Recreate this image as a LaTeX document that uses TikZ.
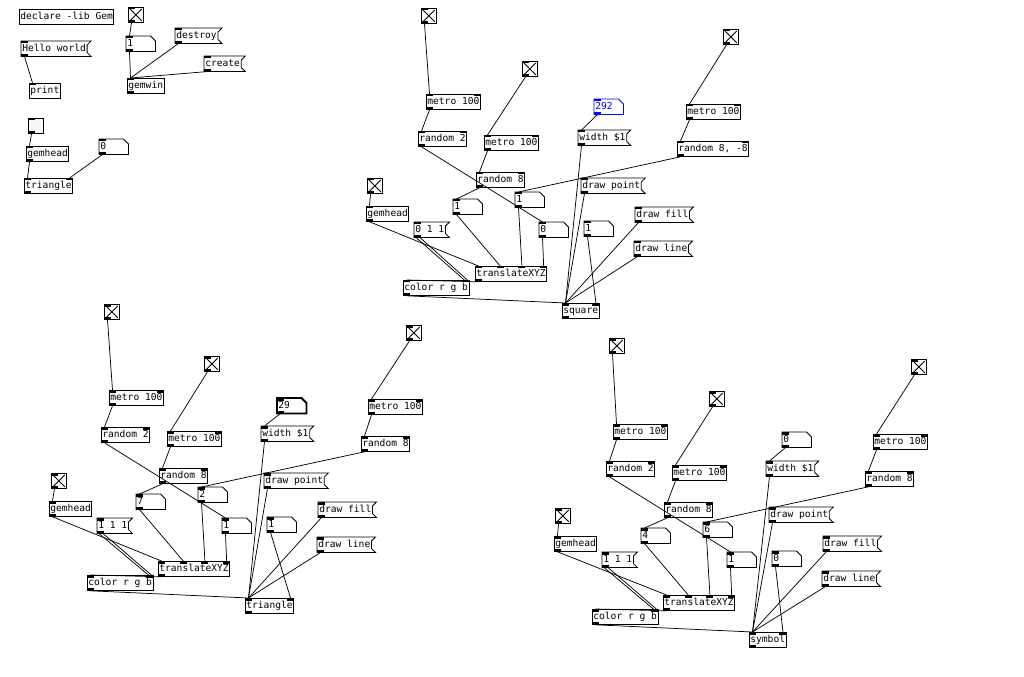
\documentclass[tikz,border=0pt]{standalone}
\usepackage{fontspec}
\setmonofont{DejaVu Sans Mono}
\usetikzlibrary{calc}
\definecolor{PdBlue}{RGB}{0,0,255}
\newdimen\pdu \pdu=0.75pt
\newcommand\pdfont{\ttfamily\fontsize{7.2}{8}\selectfont}

\tikzset{
  pdline/.style={line width=0.6pt},
  wire/.style={line width=0.55pt},
  pdbox/.style={anchor=north west, font=\pdfont, inner xsep=1\pdu, inner ysep=0pt,
    minimum height=15\pdu, text height=5.6pt, text depth=1.5pt},
  pdobj/.style={pdbox, draw, pdline},
  pdmsg/.style={pdbox},
  pdnum/.style={pdbox, text width=27\pdu, align=left},
  pdtgl/.style={anchor=north west, draw, pdline, minimum size=15\pdu, inner sep=0pt},
}

% inlets and outlets: node, number of inlets, number of outlets
\newcommand\pdio[3]{%
  \pgfmathtruncatemacro\klast{#2-1}%
  \pgfmathtruncatemacro\nlast{max(#2-1,1)}%
  \ifnum#2>0
    \foreach \k in {0,...,\klast}{%
      \pgfmathsetmacro\f{\k/\nlast}%
      \coordinate (#1-in\k) at ($(#1.north west)!\f!([xshift=-7\pdu]#1.north east)+(3.5,0)$);
      \fill ([xshift=-3.5\pdu]#1-in\k) rectangle +(7,2.5);
    }%
  \fi
  \ifnum#3>0
    \coordinate (#1-out) at ([xshift=3.5\pdu]#1.south west);
    \fill (#1.south west) rectangle +(7,-2.5);
  \fi}
\newcommand\numframe[2][]{\draw[pdline,#1] (#2.north west) -- ([xshift=-5\pdu]#2.north east)
  -- ([yshift=-5\pdu]#2.north east) -- (#2.south east) -- (#2.south west) -- cycle;}
\newcommand\msgframe[1]{\draw[pdline] (#1.north west) -- ([xshift=4\pdu]#1.north east)
  -- ([yshift=-4\pdu]#1.north east) -- ([yshift=4\pdu]#1.south east)
  -- ([xshift=4\pdu]#1.south east) -- (#1.south west) -- cycle;}
\newcommand\tglx[1]{\draw[pdline] ([xshift=2\pdu,yshift=-2\pdu]#1.north west) -- ([xshift=-2\pdu,yshift=2\pdu]#1.south east)
  ([xshift=-2\pdu,yshift=-2\pdu]#1.north east) -- ([xshift=2\pdu,yshift=2\pdu]#1.south west);}

\begin{document}
\begin{tikzpicture}[x=0.75pt,y=-0.75pt]
\useasboundingbox (0,0) rectangle (1024,677);

% window and test objects
\node[pdobj] (decl) at (19,9) {declare -lib Gem};
\node[pdtgl] (tWin) at (128,7) {};
\node[pdnum] (nWin) at (126,36) {1};
\node[pdmsg] (mDestroy) at (175,28) {destroy};
\node[pdmsg] (mCreate) at (204,56) {create};
\node[pdobj] (win) at (127,78) {gemwin};
\node[pdmsg] (mHello) at (21,41) {Hello world};
\node[pdobj] (prt) at (29,83) {print};
\node[pdtgl, fill=black!3] (empty) at (28,118) {};
\node[pdobj] (ghTri) at (26,146) {gemhead};
\node[pdnum] (nTri) at (99,139) {0};
\node[pdobj] (tri0) at (24,178) {triangle};

% patch a: square
\node[pdtgl] (aTA) at (421,8) {};
\node[pdobj] (aMetA) at (426,94) {metro 100};
\node[pdobj] (aRndA) at (418,131) {random 2};
\node[pdtgl] (aTB) at (522,61) {};
\node[pdobj] (aMetB) at (484,135) {metro 100};
\node[pdobj] (aRndB) at (476,172) {random 8};
\node[pdnum, text=PdBlue] (aNW) at (594,99) {292};
\node[pdmsg] (aMW) at (578,130) {width \$1};
\node[pdtgl] (aTC) at (723,29) {};
\node[pdobj] (aMetC) at (686,104) {metro 100};
\node[pdobj] (aRndC) at (677,141) {random 8, -8};
\node[pdtgl] (aTD) at (367,178) {};
\node[pdobj] (aGh) at (366,206) {gemhead};
\node[pdmsg] (aMPt) at (581,178) {draw point};
\node[pdnum] (aNX) at (453,199) {1};
\node[pdnum] (aNY) at (515,192) {1};
\node[pdmsg] (aMFill) at (635,207) {draw fill};
\node[pdmsg] (aMCol) at (414,222) {0 1 1};
\node[pdnum] (aNZ) at (539,222) {0};
\node[pdnum] (aNS) at (584,221) {1};
\node[pdmsg] (aMLine) at (634,241) {draw line};
\node[pdobj] (aTrl) at (475,266) {translateXYZ};
\node[pdobj] (aCol) at (403,280) {color r g b};
\node[pdobj] (aShape) at (562,303) {square};

% patch b: triangle
\node[pdtgl] (bTA) at (104,304) {};
\node[pdobj] (bMetA) at (109,390) {metro 100};
\node[pdobj] (bRndA) at (101,427) {random 2};
\node[pdtgl] (bTB) at (204,356) {};
\node[pdobj] (bMetB) at (167,431) {metro 100};
\node[pdobj] (bRndB) at (159,468) {random 8};
\node[pdnum] (bNW) at (277,398) {29};
\node[pdmsg] (bMW) at (261,426) {width \$1};
\node[pdtgl] (bTC) at (406,325) {};
\node[pdobj] (bMetC) at (368,399) {metro 100};
\node[pdobj] (bRndC) at (361,436) {random 8};
\node[pdtgl] (bTD) at (51,473) {};
\node[pdobj] (bGh) at (49,501) {gemhead};
\node[pdmsg] (bMPt) at (264,473) {draw point};
\node[pdnum] (bNX) at (136,494) {7};
\node[pdnum] (bNY) at (198,487) {2};
\node[pdmsg] (bMFill) at (318,502) {draw fill};
\node[pdmsg] (bMCol) at (97,518) {1 1 1};
\node[pdnum] (bNZ) at (222,518) {1};
\node[pdnum] (bNS) at (267,517) {1};
\node[pdmsg] (bMLine) at (317,537) {draw line};
\node[pdobj] (bTrl) at (158,561) {translateXYZ};
\node[pdobj] (bCol) at (87,575) {color r g b};
\node[pdobj] (bShape) at (245,598) {triangle};

% patch c: symbol
\node[pdtgl] (cTA) at (609,338) {};
\node[pdobj] (cMetA) at (613,424) {metro 100};
\node[pdobj] (cRndA) at (606,461) {random 2};
\node[pdtgl] (cTB) at (709,391) {};
\node[pdobj] (cMetB) at (672,465) {metro 100};
\node[pdobj] (cRndB) at (664,502) {random 8};
\node[pdnum] (cNW) at (782,432) {0};
\node[pdmsg] (cMW) at (766,461) {width \$1};
\node[pdtgl] (cTC) at (911,359) {};
\node[pdobj] (cMetC) at (873,434) {metro 100};
\node[pdobj] (cRndC) at (865,471) {random 8};
\node[pdtgl] (cTD) at (555,508) {};
\node[pdobj] (cGh) at (554,536) {gemhead};
\node[pdmsg] (cMPt) at (769,507) {draw point};
\node[pdnum] (cNX) at (641,528) {4};
\node[pdnum] (cNY) at (703,522) {6};
\node[pdmsg] (cMFill) at (823,536) {draw fill};
\node[pdmsg] (cMCol) at (602,552) {1 1 1};
\node[pdnum] (cNZ) at (727,552) {1};
\node[pdnum] (cNS) at (772,551) {0};
\node[pdmsg] (cMLine) at (822,571) {draw line};
\node[pdobj] (cTrl) at (663,595) {translateXYZ};
\node[pdobj] (cCol) at (592,609) {color r g b};
\node[pdobj] (cShape) at (749,632) {symbol};

% frames, crosses and ports
\foreach \n in {mDestroy,mCreate,mHello} {\msgframe{\n}}
\foreach \n in {nWin,nTri} {\numframe{\n}}
\foreach \n in {tWin} {\tglx{\n}}
\foreach \n in {tWin,nWin,mDestroy,mCreate,win,mHello,empty,ghTri,nTri} {\pdio{\n}{1}{1}}
\pdio{prt}{1}{0}
\pdio{tri0}{2}{1}

\numframe[draw=PdBlue]{aNW}
\numframe[line width=1.4pt]{bNW}
\numframe{cNW}
\begin{scope}[PdBlue] \pdio{aNW}{1}{1} \end{scope}
\foreach \p in {a,b,c} {
  \foreach \n in {MW,MPt,MFill,MCol,MLine} {\msgframe{\p\n}}
  \foreach \n in {NX,NY,NZ,NS} {\numframe{\p\n}}
  \foreach \n in {TA,TB,TC,TD} {\tglx{\p\n}}
  \foreach \n in {TA,TB,TC,TD,Gh,MW,MPt,MFill,MCol,MLine,NX,NY,NZ,NS} {\pdio{\p\n}{1}{1}}
  \foreach \n in {MetA,RndA,MetB,RndB,MetC,RndC,Col,Shape} {\pdio{\p\n}{2}{1}}
  \pdio{\p Trl}{4}{1}
}
\pdio{bNW}{1}{1}
\pdio{cNW}{1}{1}

% wires
\draw[wire] (tWin-out) -- (nWin-in0);
\draw[wire] (nWin-out) -- (win-in0);
\draw[wire] (mDestroy-out) -- (win-in0);
\draw[wire] (mCreate-out) -- (win-in0);
\draw[wire] (mHello-out) -- (prt-in0);
\draw[wire] (empty-out) -- (ghTri-in0);
\draw[wire] (ghTri-out) -- (tri0-in0);
\draw[wire] (nTri-out) -- (tri0-in1);

\foreach \p in {a,b,c} {
  \draw[wire] (\p TA-out) -- (\p MetA-in0);
  \draw[wire] (\p MetA-out) -- (\p RndA-in0);
  \draw[wire] (\p RndA-out) -- (\p NZ-in0);
  \draw[wire] (\p TB-out) -- (\p MetB-in0);
  \draw[wire] (\p MetB-out) -- (\p RndB-in0);
  \draw[wire] (\p RndB-out) -- (\p NX-in0);
  \draw[wire] (\p TC-out) -- (\p MetC-in0);
  \draw[wire] (\p MetC-out) -- (\p RndC-in0);
  \draw[wire] (\p RndC-out) -- (\p NY-in0);
  \draw[wire] (\p NW-out) -- (\p MW-in0);
  \draw[wire] (\p TD-out) -- (\p Gh-in0);
  \draw[wire] (\p Gh-out) -- (\p Trl-in0);
  \draw[wire] (\p NX-out) -- (\p Trl-in1);
  \draw[wire] (\p NY-out) -- (\p Trl-in2);
  \draw[wire] (\p NZ-out) -- (\p Trl-in3);
  \draw[wire] (\p Trl-out) -- (\p Col-in0);
  \draw[wire] ([xshift=-1.5\pdu]\p MCol-out) -- ([xshift=-1.5\pdu]\p Col-in1);
  \draw[wire] ([xshift=2.5\pdu]\p MCol-out) -- ([xshift=1.5\pdu]\p Col-in1);
  \draw[wire] (\p Col-out) -- (\p Shape-in0);
  \foreach \m in {MW,MPt,MFill,MLine} {\draw[wire] (\p\m-out) -- (\p Shape-in0);}
  \draw[wire] (\p NS-out) -- (\p Shape-in1);
}
\end{tikzpicture}
\end{document}
